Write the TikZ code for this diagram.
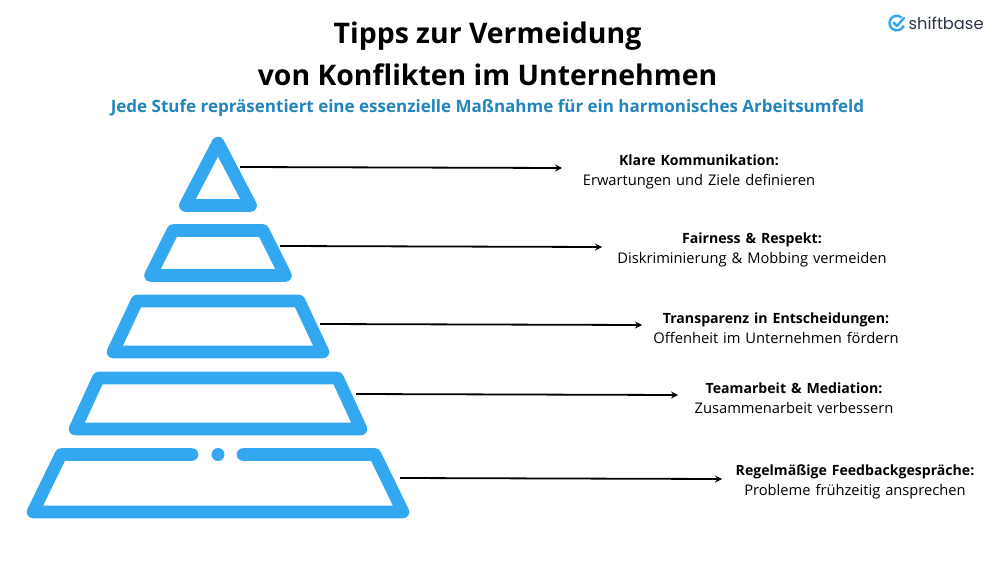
\documentclass[tikz,border=0pt]{standalone}
\usepackage{fontspec}
\setmainfont{Open Sans}
\newfontfamily\logofont{Poppins}
\usetikzlibrary{arrows.meta}
\definecolor{stufeblau}{HTML}{33A7F0}
\definecolor{titelblau}{HTML}{2185BC}
\definecolor{logotext}{HTML}{2B3445}
\newcommand{\stufetitel}[1]{{\fontsize{14.1pt}{20pt}\selectfont\textbf{#1}}\par}

\begin{document}
\begin{tikzpicture}[
    x=1pt, y=-1pt,
    stufe/.style={
        draw=stufeblau,
        line width=12.6pt,
        line join=round,
        line cap=round
      },
    pfeil/.style={
        draw=black,
        line width=1.8pt,
        -{Stealth[length=7pt,width=7pt,inset=2.5pt]}
      },
    stufetext/.style={
        align=center,
        inner sep=0pt,
        text width=300pt,
        font=\fontsize{14.7pt}{20pt}\selectfont
      }
    ]
    \useasboundingbox (0,0) rectangle (1000,562);

    % ============= TITEL ==================
    \node[align=center, inner sep=0pt, font=\fontsize{28.4pt}{42pt}\selectfont\bfseries] (TI)
      at (487.5,54) {Tipps zur Vermeidung\\von Konflikten im Unternehmen};
    \node[inner sep=0pt, text=titelblau, font=\fontsize{17pt}{20pt}\selectfont\bfseries] (ST)
      at (487.5,108) {Jede Stufe repräsentiert eine essenzielle Maßnahme für ein harmonisches Arbeitsumfeld};

    % ============= LOGO ==================
    \draw[stufeblau, line width=2.5pt] (901.5,17.5) arc (-50:-390+50:7.3);
    \draw[stufeblau, line width=2.5pt, line cap=round, line join=round]
      (893.5,22.5) -- (897,26) -- (904,18);
    \node[inner sep=0pt, anchor=west, text=logotext, font=\fontsize{16.3pt}{20pt}\logofont] (LO)
      at (908.5,23) {shiftbase};

    % ============= PYRAMIDE ==================
    \draw[stufe] (218,143) -- (250.7,205.5) -- (185.3,205.5) -- cycle;
    \draw[stufe] (173,230.5) -- (263,230.5) -- (285.5,275.5) -- (150.5,275.5) -- cycle;
    \draw[stufe] (137,301) -- (299,301) -- (323,352) -- (113,352) -- cycle;
    \draw[stufe] (98.5,378) -- (337.5,378) -- (361,429) -- (75,429) -- cycle;
    \draw[stufe] (192,454.5) -- (61,454.5) -- (33,512) -- (403,512) -- (375,454.5) -- (243,454.5);
    \fill[stufeblau] (218,454.5) circle (6.5);

    % ============= TEXTE ==================
    \node[stufetext] (K1) at (699,171.5) {\stufetitel{Klare Kommunikation:}Erwartungen und Ziele definieren};
    \node[stufetext] (K2) at (752,249.5) {\stufetitel{Fairness \& Respekt:}Diskriminierung \& Mobbing vermeiden};
    \node[stufetext] (K3) at (776,328.5) {\stufetitel{Transparenz in Entscheidungen:}Offenheit im Unternehmen fördern};
    \node[stufetext] (K4) at (794,398) {\stufetitel{Teamarbeit \& Mediation:}Zusammenarbeit verbessern};
    \node[stufetext] (K5) at (855,481.5) {\stufetitel{Regelmäßige Feedbackgespräche:}Probleme frühzeitig ansprechen};

    % ============= PFEILE ==================
    \coordinate (A1) at (240,167);
    \coordinate (B1) at (562,168);
    \coordinate (A2) at (280,246);
    \coordinate (B2) at (602,247);
    \coordinate (A3) at (320,324);
    \coordinate (B3) at (642,325);
    \coordinate (A4) at (356,394);
    \coordinate (B4) at (678,395);
    \coordinate (A5) at (400,478);
    \coordinate (B5) at (722,479);
    \foreach \i in {1,...,5}
      \draw[pfeil] (A\i) -- (B\i);

  \end{tikzpicture}
\end{document}
